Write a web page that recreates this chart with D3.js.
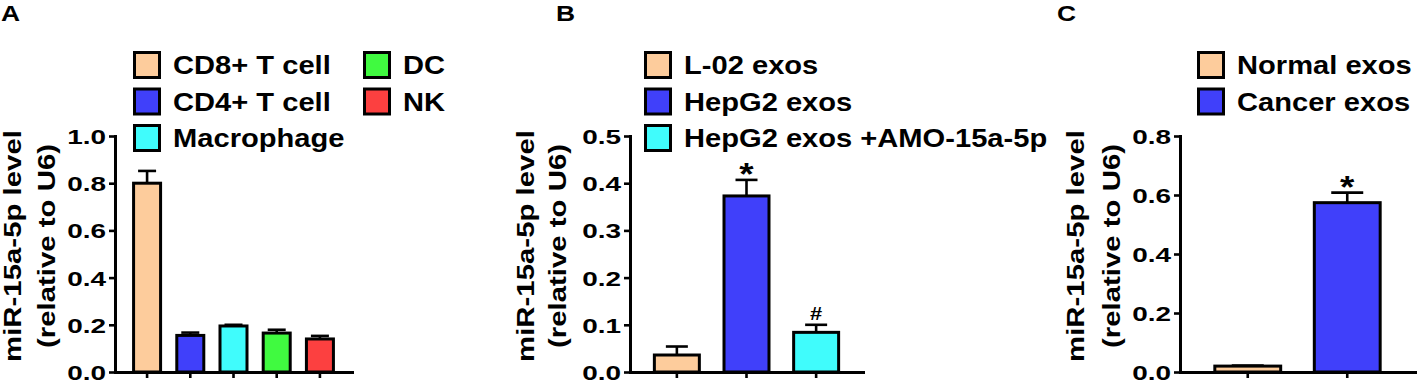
<!DOCTYPE html>
<html>
<head>
<meta charset="utf-8">
<script src="https://cdn.jsdelivr.net/npm/d3@7"></script>
<style>
  html, body { margin: 0; padding: 0; background: #fff; }
  svg { display: block; font-family: "Liberation Sans", Arial, sans-serif; font-weight: bold; }
</style>
</head>
<body>
<svg id="chart" width="1418" height="383"></svg>
<script>
// ── Data ─────────────────────────────────────────────────────────────────────
const cellTypes    = ["CD8+ T cell", "CD4+ T cell", "Macrophage", "DC", "NK"];
const cellValues   = [0.80, 0.155, 0.195, 0.165, 0.14];
const cellErrors   = [0.052, 0.012, 0.005, 0.014, 0.013];
const cellMarks    = ["", "", "", "", ""];
const cellTicks    = [0, 0.2, 0.4, 0.6, 0.8, 1.0];

const exoGroups    = ["L-02 exos", "HepG2 exos", "HepG2 exos +AMO-15a-5p"];
const exoValues    = [0.036, 0.373, 0.084];
const exoErrors    = [0.018, 0.034, 0.016];
const exoMarks     = ["", "*", "#"];
const exoTicks     = [0, 0.1, 0.2, 0.3, 0.4, 0.5];

const tissueGroups = ["Normal exos", "Cancer exos"];
const tissueValues = [0.02, 0.574];
const tissueErrors = [0.002, 0.034];
const tissueMarks  = ["", "*"];
const tissueTicks  = [0, 0.2, 0.4, 0.6, 0.8];

const yLabelLines  = ["miR-15a-5p level", "(relative to U6)"];
const palette      = ["#fdcc9c", "#4040fa", "#40fcfc", "#40fa40", "#fc4040"];

// glyph tweaks for the significance marks
const markStyle = { "*": { size: 32, dy: 5 }, "#": { size: 19, dy: -5 } };

const svg = d3.select("#chart");
const Y0 = 372, Y1 = 136;

// ── Panel ────────────────────────────────────────────────────────────────────
function drawPanel(p) {
    const g = svg.append("g");
    const y = d3.scaleLinear().domain([0, d3.max(p.ticks)]).range([Y0, Y1]);
    const x = d3.scaleBand().domain(p.cats).range([p.x0, p.x1])
        .paddingInner(p.padIn).paddingOuter(p.padOut);

    // panel letter
    g.append("text")
        .attr("transform", `translate(${p.letterX},21) scale(1.2,1)`)
        .style("font-size", "22px").text(p.letter);

    // bars
    g.selectAll("rect.bar").data(p.cats).join("rect")
        .attr("class", "bar")
        .attr("x", d => x(d)).attr("width", x.bandwidth())
        .attr("y", (d, i) => y(p.values[i]))
        .attr("height", (d, i) => y(0) - y(p.values[i]))
        .attr("fill", (d, i) => palette[i])
        .attr("stroke", "#000").attr("stroke-width", 3);

    // error bars (upper only) + significance marks
    p.cats.forEach((c, i) => {
        const cx = x(c) + x.bandwidth() / 2;
        const top = y(p.values[i] + p.errors[i]);
        g.append("line").attr("x1", cx).attr("x2", cx)
            .attr("y1", y(p.values[i])).attr("y2", top)
            .attr("stroke", "#000").attr("stroke-width", 2.6);
        g.append("line").attr("x1", cx - p.capW / 2).attr("x2", cx + p.capW / 2)
            .attr("y1", top).attr("y2", top)
            .attr("stroke", "#000").attr("stroke-width", 2.6);
        const m = p.marks[i];
        if (m) {
            g.append("text")
                .attr("transform", `translate(${cx},${top + markStyle[m].dy}) scale(1.15,1)`)
                .attr("text-anchor", "middle")
                .style("font-size", markStyle[m].size + "px").text(m);
        }
    });

    // axes
    const gy = g.append("g").attr("transform", `translate(${p.x0},0)`)
        .call(d3.axisLeft(y).tickValues(p.ticks).tickFormat(d3.format(".1f"))
            .tickSize(6).tickSizeOuter(0));
    const gx = g.append("g").attr("transform", `translate(0,${Y0})`)
        .call(d3.axisBottom(x).tickSize(6).tickSizeOuter(0).tickFormat(() => ""));

    [gy, gx].forEach(a => {
        a.select(".domain").attr("stroke", "#000").attr("stroke-width", 3).attr("stroke-linecap", "square");
        a.selectAll(".tick line").attr("stroke", "#000").attr("stroke-width", 2.6);
    });
    gy.selectAll(".tick text")
        .attr("x", null).attr("dy", "0.36em")
        .attr("transform", "translate(-9,0) scale(1.33,1)")
        .attr("fill", "#000")
        .style("font-size", "21px");
    gy.attr("font-family", null).attr("font-size", null);

    // y label, two lines
    yLabelLines.forEach((t, i) => {
        g.append("text")
            .attr("transform", `translate(${p.labelX[i]},246) rotate(-90) scale(1.25,1)`)
            .attr("text-anchor", "middle")
            .style("font-size", "23.5px").text(t);
    });

    // legend (3 rows per column)
    p.cats.forEach((c, i) => {
        const lx = p.legendX[Math.floor(i / 3)];
        const ly = 52.5 + (i % 3) * 36.5;
        g.append("rect").attr("x", lx).attr("y", ly).attr("width", 25).attr("height", 25)
            .attr("fill", palette[i]).attr("stroke", "#000").attr("stroke-width", 3);
        g.append("text")
            .attr("transform", `translate(${lx + 38.5},${ly + 21.5}) scale(1.12,1)`)
            .style("font-size", "26px").text(c);
    });
}

drawPanel({ letter: "A", letterX: 1, cats: cellTypes, values: cellValues, errors: cellErrors,
    marks: cellMarks, ticks: cellTicks, x0: 115, x1: 352, padIn: 0.375, padOut: 0.43, capW: 18,
    legendX: [134.5, 364.5], labelX: [21, 55] });

drawPanel({ letter: "B", letterX: 556, cats: exoGroups, values: exoValues, errors: exoErrors,
    marks: exoMarks, ticks: exoTicks, x0: 630, x1: 863, padIn: 0.354, padOut: 0.35, capW: 22,
    legendX: [645.5], labelX: [534, 566] });

drawPanel({ letter: "C", letterX: 1057, cats: tissueGroups, values: tissueValues, errors: tissueErrors,
    marks: tissueMarks, ticks: tissueTicks, x0: 1180, x1: 1415, padIn: 0.338, padOut: 0.35, capW: 32,
    legendX: [1198.5], labelX: [1084, 1120] });
</script>
</body>
</html>
